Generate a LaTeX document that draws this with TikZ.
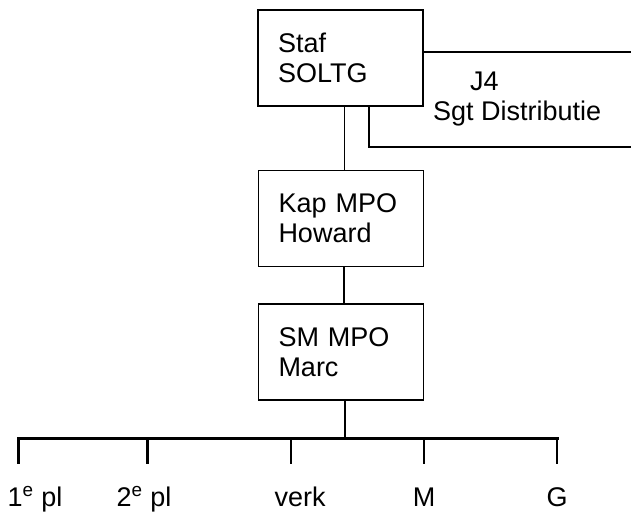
\documentclass[tikz,border=0pt]{standalone}
\usepackage{fontspec}
\setmainfont{Liberation Sans}
\begin{document}
\begin{tikzpicture}[x=1pt,y=-1pt,
  box/.style={draw, line width=1.8pt, minimum height=96pt, text width=125pt, inner xsep=20pt, inner ysep=0pt, align=left, font=\fontsize{27}{30}\selectfont},
  lbl/.style={font=\fontsize{27}{30}\selectfont, inner sep=0pt},
  conn/.style={line width=1.8pt},
  bus/.style={line width=3pt},
  thick tick/.style={line width=3pt},
  thin tick/.style={line width=2pt}]
\useasboundingbox (0,0) rectangle (631,515);
% boxes
\node[box] (staf) at (340.5,58) {Staf\\SOLTG};
\node[box] (kap) at (341,218.5) {Kap MPO\\Howard};
\node[box] (sm) at (341,352) {SM MPO\\Marc};
% J4 text
\node[lbl, anchor=base west] (j4) at (470,90) {J4};
\node[lbl, anchor=base west] (sgt) at (433,120) {Sgt Distributie};
% right-hand lines
\coordinate (r1) at (631,52);
\coordinate (r2) at (631,147);
\draw[conn] (staf.east |- r1) -- (r1);
\draw[conn] ([xshift=28.5pt]staf.south) |- (r2);
% vertical connectors
\draw[conn] ([xshift=4pt]staf.south) -- ([xshift=4pt]staf.south |- kap.north);
\draw[conn] ([xshift=3pt]kap.south) -- ([xshift=3pt]kap.south |- sm.north);
% bus
\coordinate (b1) at (18,438);
\coordinate (b2) at (147,438);
\coordinate (b3) at (291,438);
\coordinate (b4) at (424,438);
\coordinate (b5) at (557,438);
\draw[conn] ([xshift=4pt]sm.south) -- ([xshift=4pt]sm.south |- b1);
\draw[bus, line cap=rect] (b1) -- (b5);
% ticks
\coordinate (t1) at (18,464);
\coordinate (t2) at (147,464);
\coordinate (t3) at (291,464);
\coordinate (t4) at (424,464);
\coordinate (t5) at (557,464);
\draw[thick tick] (b1) -- (t1);
\draw[thick tick] (b2) -- (t2);
\draw[thin tick] (b3) -- (t3);
\draw[thin tick] (b4) -- (t4);
\draw[thin tick] (b5) -- (t5);
% labels
\node[lbl, anchor=base] (l1) at (35,506) {1\textsuperscript{e} pl};
\node[lbl, anchor=base] (l2) at (144,506) {2\textsuperscript{e} pl};
\node[lbl, anchor=base] (l3) at (300,506) {verk};
\node[lbl, anchor=base] (l4) at (424,506) {M};
\node[lbl, anchor=base] (l5) at (557,506) {G};
\end{tikzpicture}
\end{document}
